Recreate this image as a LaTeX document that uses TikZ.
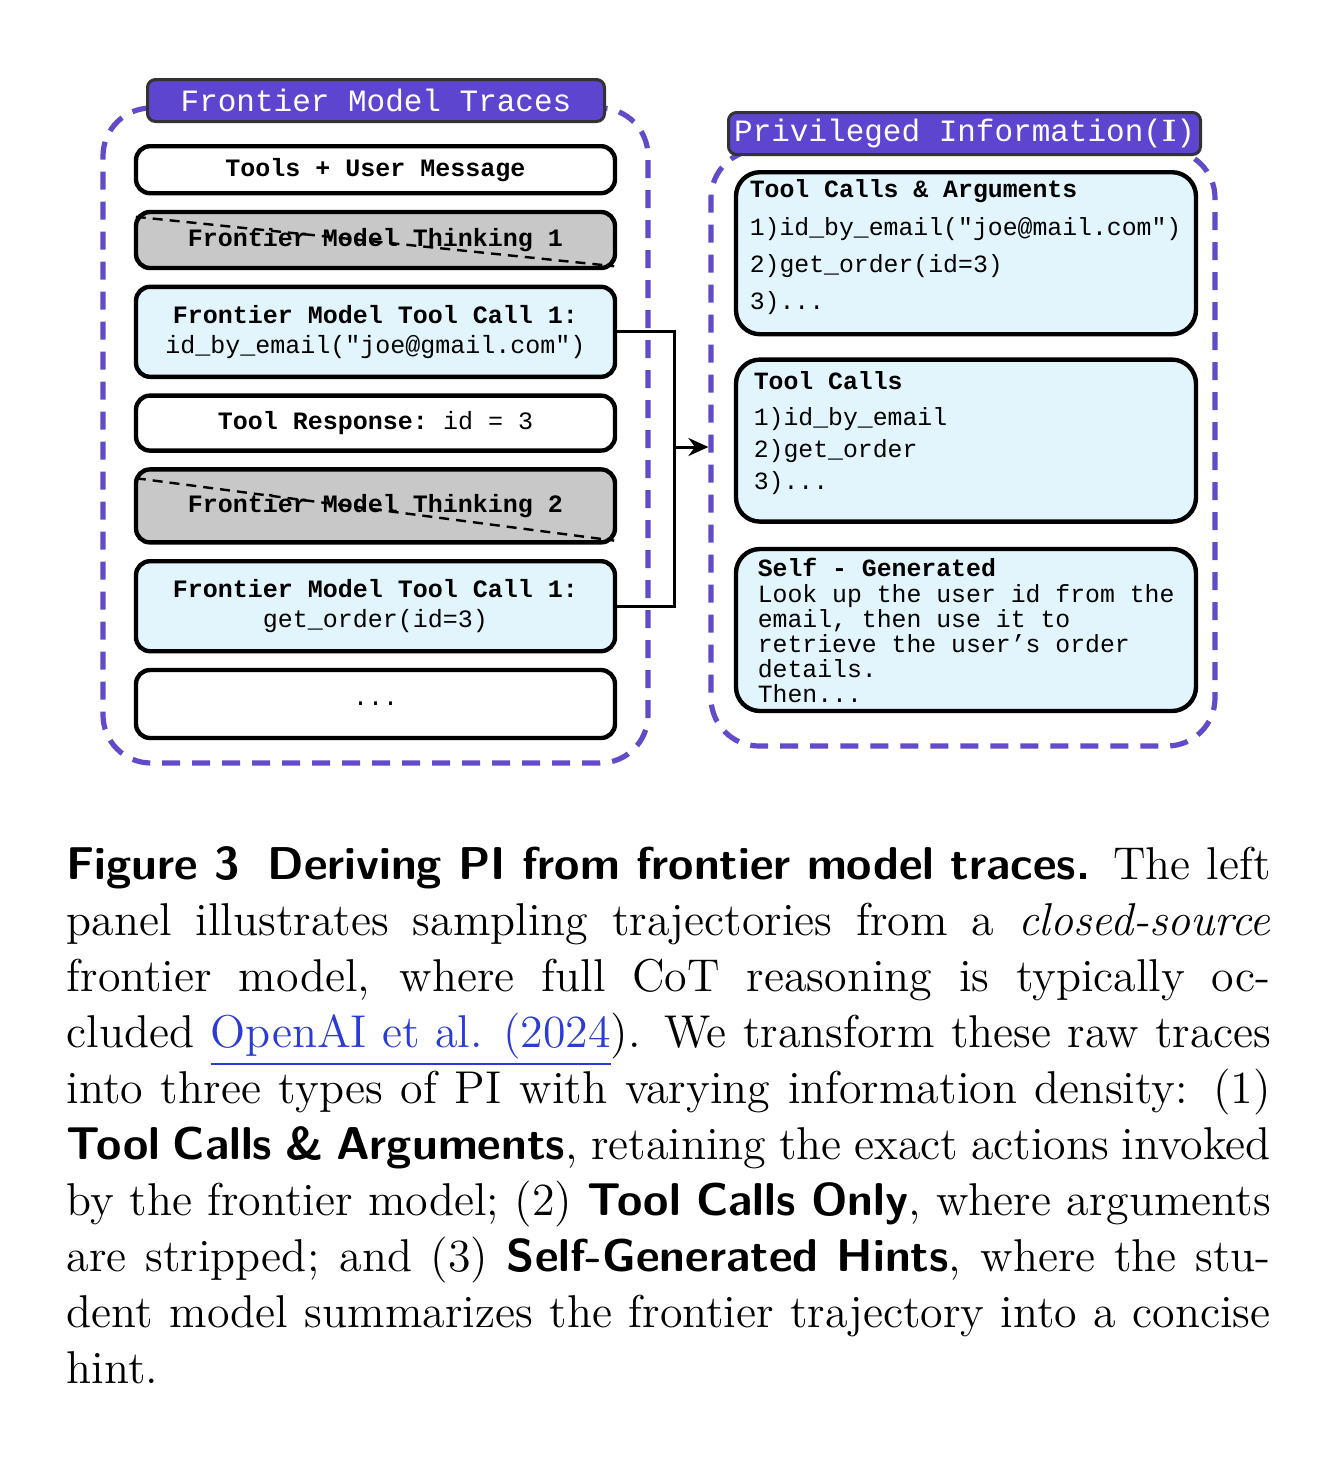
\documentclass[tikz,border=0pt]{standalone}
\usepackage{fontspec}
\setmonofont{Liberation Mono}
\usepackage{xcolor}
\usetikzlibrary{arrows.meta, positioning}

\definecolor{panelpurple}{HTML}{624AC8}
\definecolor{titlepurple}{HTML}{5E45CF}
\definecolor{callblue}{HTML}{E2F5FD}
\definecolor{thinkgray}{HTML}{C8C8C8}
\definecolor{linkblue}{HTML}{2A3BD6}

\newcommand{\capline}[1]{\hbox to 301pt{\spaceskip=0.333em plus 0.6em minus 0.12em\relax #1}}

\begin{document}
\begin{tikzpicture}[
  x=0.25pt, y=-0.25pt,
  panel/.style={draw=panelpurple, line width=1.3pt, dash pattern=on 4.5pt off 3pt, rounded corners=12pt, inner sep=0pt},
  paneltitle/.style={draw=black!80, fill=titlepurple, line width=0.75pt, rounded corners=2pt, text=white, inner sep=0pt, minimum height=10.5pt, font=\fontsize{7.75}{9}\selectfont\ttfamily},
  trace/.style={draw, line width=1.1pt, rounded corners=3.5pt, minimum width=119.75pt, inner sep=0pt, align=center, font=\fontsize{6.25}{7.5}\selectfont\ttfamily},
  think/.style={trace, fill=thinkgray},
  toolcall/.style={trace, fill=callblue},
  hint/.style={draw, line width=1.1pt, rounded corners=6pt, fill=callblue, minimum width=115pt, minimum height=40.5pt},
  hinttext/.style={align=left, inner sep=0pt, outer sep=0pt},
  strike/.style={line width=0.6pt, dash pattern=on 2.5pt off 1.75pt},
  link/.style={line width=0.75pt},
  node distance=3.6pt
]
\path[use as bounding box, fill=white] (0,0) rectangle (1324,1458);

\node[panel, minimum width=136.25pt, minimum height=163.75pt] (traces) at (375.5,435.5) {};
\node[panel, minimum width=126pt, minimum height=149pt] (pinfo) at (963,448) {};
\node[paneltitle, minimum width=114.25pt] (tracesTitle) at (376,100.5) {Frontier Model Traces};
\node[paneltitle, minimum width=118pt] (pinfoTitle) at (964.5,133.5) {Privileged Information({\rmfamily\bfseries I})};

\node[trace, minimum height=11.75pt, anchor=north] (msg) at (375.5,144) {\textbf{Tools + User Message}};
\node[think, minimum height=14pt, below=of msg] (think1) {\textbf{Frontier Model Thinking 1}};
\node[toolcall, minimum height=22.5pt, below=of think1] (call1) {\textbf{Frontier Model Tool Call 1:}\\id\_by\_email("joe@gmail.com")};
\node[trace, minimum height=13.75pt, below=of call1] (resp) {\textbf{Tool Response:} id = 3};
\node[think, minimum height=18.25pt, below=of resp] (think2) {\textbf{Frontier Model Thinking 2}};
\node[toolcall, minimum height=22.5pt, below=of think2] (call2) {\textbf{Frontier Model Tool Call 1:}\\get\_order(id=3)};
\node[trace, minimum height=17pt, below=of call2] (more) {...};

\draw[strike] ([xshift=0.5pt,yshift=-1.75pt]think1.north west) -- ([xshift=-0.75pt,yshift=1pt]think1.south east);
\draw[strike] ([xshift=0.5pt,yshift=-2.75pt]think2.north west) -- ([xshift=-0.75pt,yshift=1pt]think2.south east);

\coordinate (junc) at (674,447);
\draw[link] (call1.east) -| (junc) |- (call2.east);
\draw[link, -{Stealth[length=5pt, width=4.5pt]}] (junc) -- (junc -| pinfo.west);

\node[hint, anchor=north] (tca) at (966,170) {};
\node[hint, below=5.25pt of tca] (tc) {};
\node[hint, below=5.75pt of tc] (selfgen) {};

\node[hinttext, font=\fontsize{6.2}{9.25}\selectfont\ttfamily, below right=2.5pt and 4pt of tca.north west] (tcaText)
  {\textbf{Tool Calls \& Arguments}\\[0.25pt]
   1)id\_by\_email("joe@mail.com")\\
   2)get\_order(id=3)\\
   3)...};
\node[hinttext, font=\fontsize{6.2}{8}\selectfont\ttfamily, below right=3.5pt and 5pt of tc.north west] (tcText)
  {\textbf{Tool Calls}\\[1pt]
   1)id\_by\_email\\
   2)get\_order\\
   3)...};
\node[hinttext, font=\fontsize{6.2}{6.25}\selectfont\ttfamily, below right=2.75pt and 6pt of selfgen.north west] (selfgenText)
  {\textbf{Self - Generated}\\[0.25pt]
   Look up the user id from the\\
   email, then use it to\\
   retrieve the user’s order\\
   details.\\
   Then...};

\node[anchor=base west, inner sep=0pt, font=\fontsize{11.5}{14}\selectfont] (caption) at (66,879)
  {\parbox[t]{301pt}{%
   \capline{\textsf{\bfseries Figure 3\hspace{0.6em}Deriving PI from frontier model traces.} The left}
   \capline{panel illustrates sampling trajectories from a \textit{closed-source}}
   \capline{frontier model, where full CoT reasoning is typically oc-}
   \capline{cluded \textcolor{linkblue}{\underline{OpenAI et al. (2024}}). We transform these raw traces}
   \capline{into three types of PI with varying information density: (1)}
   \capline{\textsf{\bfseries Tool Calls \& Arguments}, retaining the exact actions invoked}
   \capline{by the frontier model; (2) \textsf{\bfseries Tool Calls Only}, where arguments}
   \capline{are stripped; and (3) \textsf{\bfseries Self-Generated Hints}, where the stu-}
   \capline{dent model summarizes the frontier trajectory into a concise}
   \hbox{hint.}}};
\end{tikzpicture}
\end{document}
